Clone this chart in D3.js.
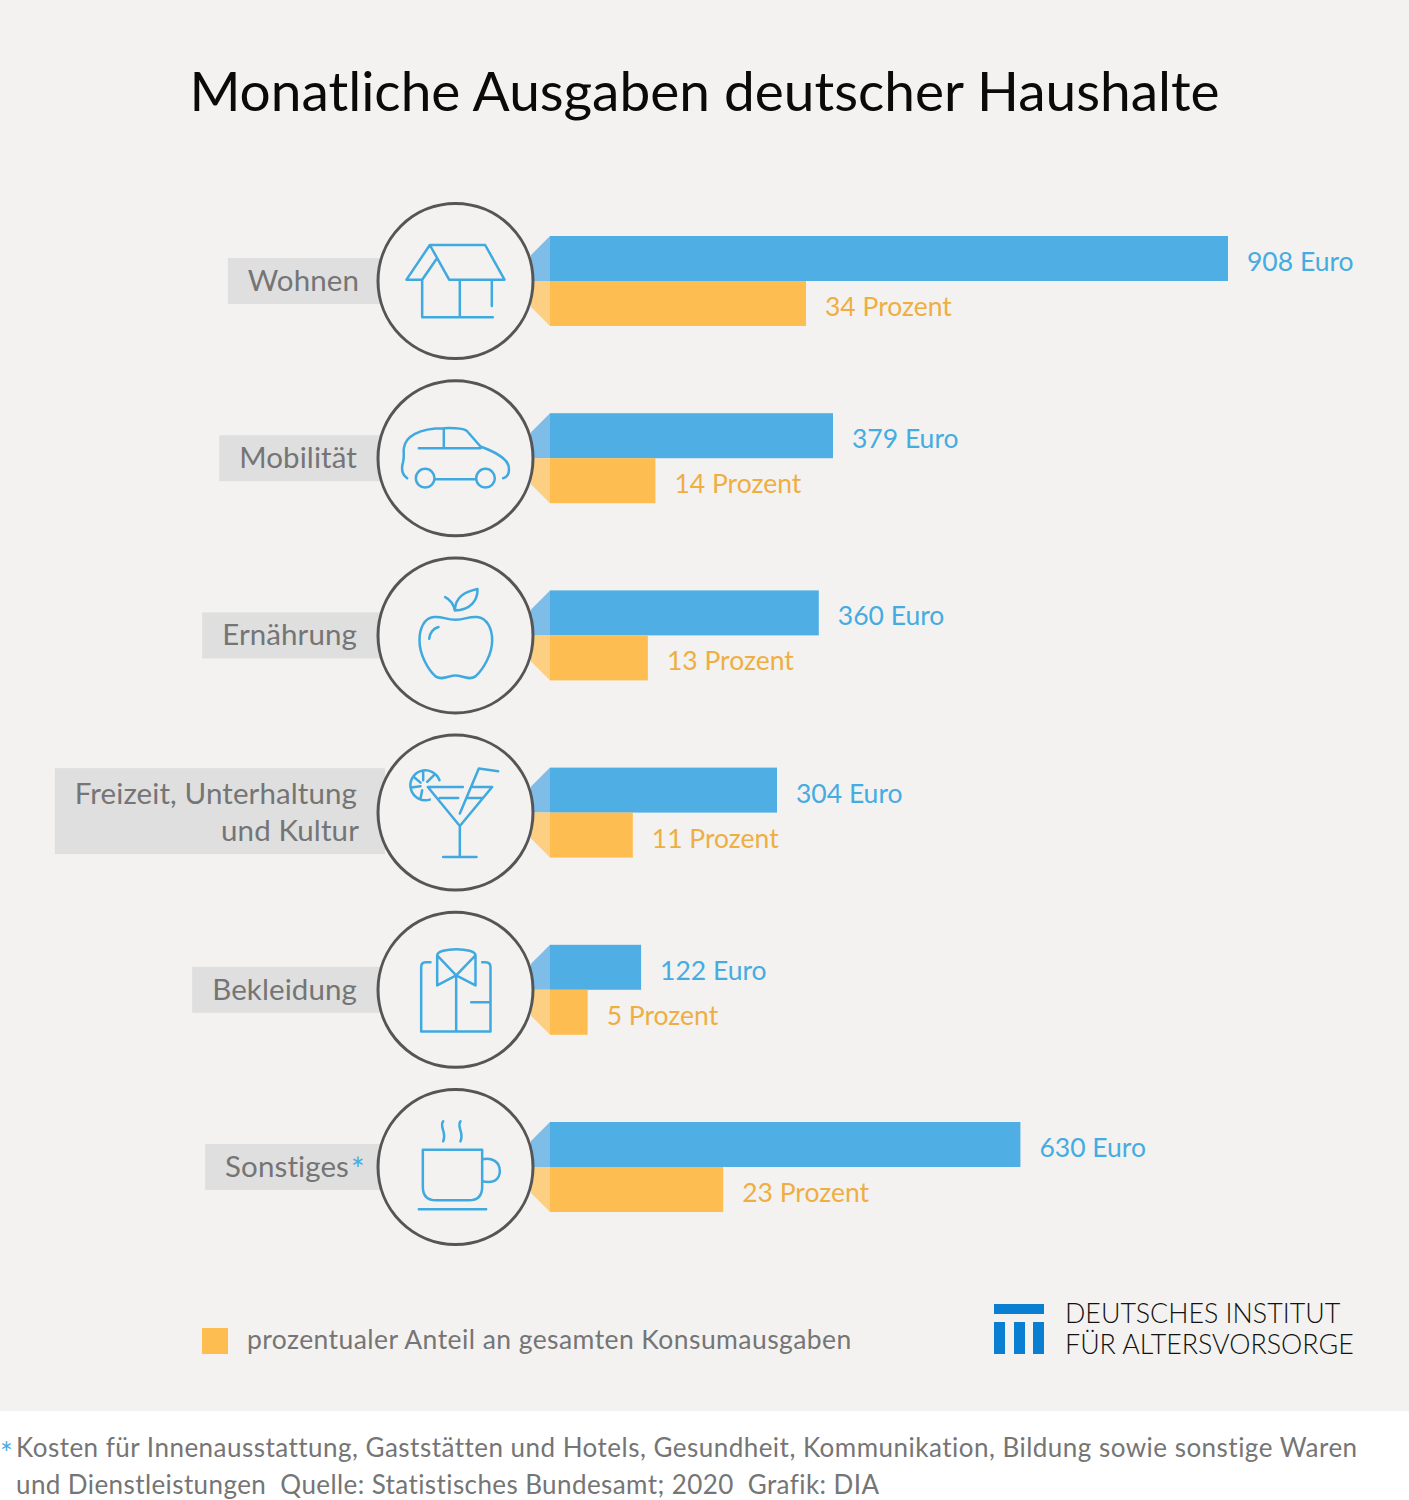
<!DOCTYPE html>
<html lang="de">
<head>
<meta charset="utf-8">
<script src="https://cdn.jsdelivr.net/npm/d3@7"></script>
<style>
  html, body { margin: 0; padding: 0; background: #fff; }
  text { font-family: Lato, "Open Sans", sans-serif; }
</style>
</head>
<body>
<svg id="chart" width="1409" height="1500"></svg>
<script>
var categories = ["Wohnen", "Mobilität", "Ernährung", "Freizeit, Unterhaltung und Kultur", "Bekleidung", "Sonstiges"];
var euroValues = [908, 379, 360, 304, 122, 630];
var percentValues = [34, 14, 13, 11, 5, 23];
var labelLines = [["Wohnen"], ["Mobilität"], ["Ernährung"], ["Freizeit, Unterhaltung", "und Kultur"], ["Bekleidung"], ["Sonstiges"]];

var blue = "#4faee3", blueLight = "#7fbde9", blueText = "#45ace2";
var orange = "#fdbd50", orangeLight = "#fdcf82", orangeText = "#efae42";
var grey = "#757575";

var icons = [
  { cx: 255, cy: 258, d: "M178,150L344,150L402,254L236,254L178,150L108,254L155,254M155,254L198,192M155,254L155,367L367,367M268,254L268,367M364,254L364,333" },
  { cx: 255, cy: 790, d: "M110,850C95,840 92,820 98,800C102,780 98,770 100,760C104,725 145,700 220,700C250,699 275,700 288,707L330,755C370,770 415,790 415,820C417,835 410,848 398,850M145,760L330,760M220,703L220,760M193,853L315,853M192,850A28,28 0 1,1 136,850A28,28 0 1,1 192,850M373,850A28,28 0 1,1 317,850A28,28 0 1,1 373,850" },
  { cx: 255, cy: 255, d: "M255,208C225,208 215,197 190,200C160,203 147,235 147,270C147,310 170,355 195,378C215,392 235,375 255,375C275,375 295,392 315,378C340,355 365,310 365,270C365,235 350,203 320,200C295,197 285,208 255,208M176,265C178,248 188,235 204,230M224,140C240,148 250,165 253,180C300,180 322,150 321,116C280,125 255,140 253,180" },
  { cx: 255, cy: 787, d: "M277,710L172,710L268,827L365,710L302,710M208,743L263,743M288,743L335,743M268,790L325,655L383,663M268,827L268,920M218,920L318,920M207,690A45,45 0 1,0 178,748M158,665L158,690M190,675L170,695M130,680L150,697M122,712L150,708M150,745L155,720" },
  { cx: 255, cy: 253, d: "M200,150C200,125 315,125 315,150L315,240L257,210L200,240L200,150L257,210L315,150M257,210L257,378M180,170L165,170Q152,170 152,185L152,378L360,378L360,185Q360,170 345,170L335,170M302,290L360,290" },
  { cx: 255, cy: 785, d: "M157,733L335,733L335,845Q335,885 295,885L197,885Q157,885 157,845ZM335,762C365,755 388,770 388,797C388,825 365,835 335,828M145,912L347,912M218,648C205,665 230,680 218,708M270,648C257,665 282,680 270,708" }
];

var width = 1409, height = 1500;
var svg = d3.select("#chart");

svg.append("rect").attr("width", width).attr("height", 1411).attr("fill", "#f3f2f0");

svg.append("text")
  .attr("x", 704.5).attr("y", 111)
  .attr("text-anchor", "middle")
  .attr("font-size", 55)
  .attr("fill", "#0a0a0a")
  .text("Monatliche Ausgaben deutscher Haushalte");

var y = d3.scalePoint().domain(categories).range([281, 1167]);
var xEuro = d3.scaleLinear().domain([0, 908]).range([550, 1228]);
var xPercent = d3.scaleLinear().domain([0, 34]).range([550, 806]);

var barH = 45, bevel = 19, circleX = 455.5, circleR = 77.5;

var rows = svg.selectAll("g.row")
  .data(categories)
  .join("g")
  .attr("class", "row")
  .attr("transform", function (d) { return "translate(0," + y(d) + ")"; });

// label boxes, the text goes first so the box can be sized from it
rows.each(function (d, i) {
  var g = d3.select(this);
  var lines = labelLines[i];
  var box = g.append("rect").attr("fill", "#dfdfdf");
  var txt = g.append("text")
    .attr("text-anchor", "end")
    .attr("font-size", 29.5)
    .attr("letter-spacing", 0.1)
    .attr("fill", grey);
  lines.forEach(function (l, j) {
    txt.append("tspan")
      .attr("x", (j == 1 || i == 0) ? 359 : 357)
      .attr("y", (lines.length == 1 ? 10 : -9 + j * 37))
      .text(l);
  });
  if (d == "Sonstiges") {
    txt.selectAll("tspan").attr("x", 349);
    g.append("text").attr("x", 351).attr("y", 14).attr("font-size", 32).attr("fill", blueText).text("*");
  }
  var left = txt.node().getBBox().x - 20;
  var half = lines.length == 1 ? 23 : 43;
  var top = lines.length == 1 ? -half : -half - 1.5;
  box.attr("x", left).attr("y", top).attr("width", 385 - left).attr("height", half * 2);
});

// blue bars with bevel
rows.append("path")
  .attr("fill", blueLight)
  .attr("d", function () {
    var p = d3.path();
    p.moveTo(550, -barH); p.lineTo(550 - bevel, -barH + bevel); p.lineTo(550 - bevel, 0); p.lineTo(550, 0); p.closePath();
    return p.toString();
  });
rows.append("path")
  .attr("fill", orangeLight)
  .attr("d", function () {
    var p = d3.path();
    p.moveTo(550, barH); p.lineTo(550 - bevel, barH - bevel); p.lineTo(550 - bevel, 0); p.lineTo(550, 0); p.closePath();
    return p.toString();
  });

rows.append("rect")
  .attr("x", xEuro(0)).attr("y", -barH)
  .attr("width", function (d, i) { return xEuro(euroValues[i]) - xEuro(0); })
  .attr("height", barH)
  .attr("fill", blue);

rows.append("rect")
  .attr("x", xPercent(0)).attr("y", 0)
  .attr("width", function (d, i) { return xPercent(percentValues[i]) - xPercent(0); })
  .attr("height", barH)
  .attr("fill", orange);

rows.append("text")
  .attr("x", function (d, i) { return xEuro(euroValues[i]) + 19; })
  .attr("y", -10)
  .attr("font-size", 26.5)
  .attr("fill", blueText)
  .text(function (d, i) { return euroValues[i] + " Euro"; });

rows.append("text")
  .attr("x", function (d, i) { return xPercent(percentValues[i]) + 19; })
  .attr("y", 35)
  .attr("font-size", 26.5)
  .attr("fill", orangeText)
  .text(function (d, i) { return percentValues[i] + " Prozent"; });

rows.append("circle")
  .attr("cx", circleX).attr("cy", 0).attr("r", circleR)
  .attr("fill", "#f3f2f0")
  .attr("stroke", "#555")
  .attr("stroke-width", 3);

rows.append("path")
  .attr("transform", function (d, i) {
    return "translate(" + circleX + ",0) scale(0.3333) translate(" + (-icons[i].cx) + "," + (-icons[i].cy) + ")";
  })
  .attr("d", function (d, i) { return icons[i].d; })
  .attr("fill", "none")
  .attr("stroke", "#3fa9e0")
  .attr("stroke-width", 7.5)
  .attr("stroke-linecap", "round")
  .attr("stroke-linejoin", "round");

// legend
svg.append("rect").attr("x", 202).attr("y", 1328).attr("width", 26).attr("height", 26).attr("fill", orange);
svg.append("text")
  .attr("x", 247).attr("y", 1349)
  .attr("font-size", 26.5).attr("letter-spacing", 0.43)
  .attr("fill", grey)
  .text("prozentualer Anteil an gesamten Konsumausgaben");

// logo
var logoBlue = "#0a7fd1";
svg.append("rect").attr("x", 994).attr("y", 1304).attr("width", 50).attr("height", 10).attr("fill", logoBlue);
[994, 1014, 1033].forEach(function (x) {
  svg.append("rect").attr("x", x).attr("y", 1322).attr("width", 11).attr("height", 32).attr("fill", logoBlue);
});
["DEUTSCHES INSTITUT", "FÜR ALTERSVORSORGE"].forEach(function (l, i) {
  svg.append("text")
    .attr("x", 1065).attr("y", 1323 + i * 31)
    .attr("font-size", 26.8).attr("font-weight", 300)
    .attr("fill", "#111")
    .text(l);
});

// footnote
svg.append("text").attr("x", 0).attr("y", 1464).attr("font-size", 30).attr("fill", blueText).text("*");
var footSpacing = [0.48, 0.41];
["Kosten für Innenausstattung, Gaststätten und Hotels, Gesundheit, Kommunikation, Bildung sowie sonstige Waren",
 "und Dienstleistungen  Quelle: Statistisches Bundesamt; 2020  Grafik: DIA"].forEach(function (l, i) {
  svg.append("text")
    .attr("x", 16).attr("y", 1457 + i * 37)
    .attr("font-size", 26).attr("letter-spacing", footSpacing[i])
    .attr("fill", grey)
    .attr("xml:space", "preserve")
    .text(l);
});
</script>
</body>
</html>
